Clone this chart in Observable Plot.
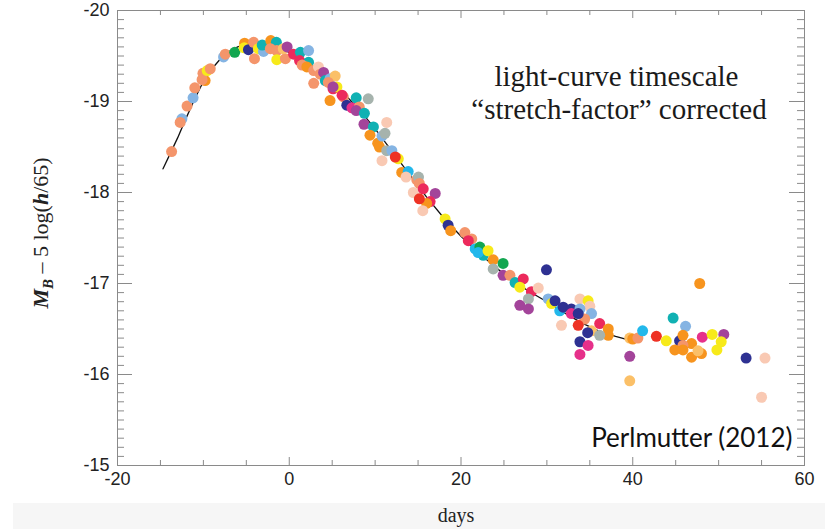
<!DOCTYPE html>
<html>
<head>
<meta charset="utf-8">
<script src="https://cdn.jsdelivr.net/npm/d3@7"></script>
<script src="https://cdn.jsdelivr.net/npm/@observablehq/plot@0.6"></script>
<style>
  html, body { margin: 0; padding: 0; background: #fff; }
  #wrap { position: relative; width: 825px; height: 529px; overflow: hidden; }
  #band { position: absolute; left: 13px; top: 503px; width: 812px; height: 26px; background: #f6f6f6; }
  #days { position: absolute; left: 456px; top: 503px; transform: translateX(-50%);
          font-family: "Liberation Serif", "Times New Roman", serif; font-size: 20px; line-height: 24px; color: #222; }
</style>
</head>
<body>
<div id="wrap">
  <div id="chart"></div>
  <div id="band"></div>
  <div id="days">days</div>
</div>
<script>
// ---- data ----
const days = [
  -13.7,-12.5,-12.7,-11.9,-11.2,-11.0,-9.8,-10.15,-10.05,-9.55,-9.2,-7.65,-7.45,-6.35,-5.2,-5.25,-4.75,-4.15,-4.05,-3.6,
  -3.0,-3.15,-2.15,-1.5,-2.2,-1.45,-1.45,-0.45,-0.7,-0.25,0.5,1.3,1.2,2.25,2.25,1.5,2.05,2.85,3.4,2.85,
  3.6,4.0,4.2,4.75,5.35,4.55,4.75,5.1,5.55,5.1,6.3,6.15,6.7,7.3,7.8,8.15,7.8,8.75,9.2,8.7,
  9.8,9.4,10.3,10.5,10.8,11.15,11.35,11.35,10.8,11.95,12.7,12.35,13.1,13.85,13.6,14.85,15.05,15.15,14.45,15.6,
  17.0,16.4,16.0,15.15,15.55,18.15,18.5,18.8,20.45,21.25,20.85,21.65,22.2,22.6,22.0,23.15,23.75,24.9,23.75,24.9,
  25.7,26.3,27.25,26.85,28.2,29.0,27.85,26.85,27.85,29.95,30.15,30.55,30.95,31.5,31.9,32.85,32.85,33.85,34.8,35.0,
  33.85,35.2,34.4,33.65,31.7,33.65,36.15,35.2,34.75,37.15,37.15,36.15,33.85,34.8,33.85,39.65,40.0,40.6,41.15,39.65,
  39.65,47.8,44.7,46.15,42.75,43.9,45.45,45.85,46.85,45.85,44.9,45.85,46.85,48.0,47.6,48.1,49.25,50.6,50.3,49.8,
  53.2,55.4,55.0
];
const mag = [
  -18.45,-18.81,-18.77,-18.95,-19.04,-19.15,-19.23,-19.24,-19.31,-19.34,-19.36,-19.49,-19.52,-19.54,-19.64,-19.59,-19.57,-19.65,-19.47,-19.58,
  -19.55,-19.62,-19.67,-19.65,-19.58,-19.56,-19.46,-19.47,-19.58,-19.60,-19.52,-19.54,-19.45,-19.56,-19.43,-19.40,-19.38,-19.34,-19.38,-19.20,
  -19.30,-19.32,-19.23,-19.25,-19.28,-19.21,-19.01,-19.14,-19.16,-19.16,-19.05,-19.07,-18.96,-18.93,-19.04,-18.94,-18.90,-18.87,-19.03,-18.75,
  -18.72,-18.63,-18.54,-18.50,-18.62,-18.65,-18.77,-18.46,-18.35,-18.46,-18.37,-18.39,-18.22,-18.23,-18.17,-18.14,-18.17,-18.10,-18.00,-18.04,
  -17.99,-17.90,-17.88,-17.93,-17.80,-17.71,-17.64,-17.58,-17.56,-17.49,-17.47,-17.38,-17.40,-17.31,-17.34,-17.36,-17.26,-17.22,-17.16,-17.09,
  -17.09,-17.01,-17.05,-16.96,-16.91,-16.95,-16.83,-16.76,-16.72,-17.15,-16.83,-16.78,-16.81,-16.70,-16.74,-16.72,-16.67,-16.83,-16.81,-16.75,
  -16.72,-16.67,-16.61,-16.67,-16.54,-16.54,-16.56,-16.48,-16.46,-16.50,-16.43,-16.43,-16.36,-16.32,-16.22,-16.40,-16.39,-16.40,-16.48,-16.20,
  -15.93,-17.00,-16.62,-16.53,-16.42,-16.37,-16.37,-16.43,-16.34,-16.32,-16.27,-16.27,-16.19,-16.23,-16.26,-16.41,-16.44,-16.44,-16.36,-16.27,
  -16.18,-16.18,-15.75
];
const sn = [
  "S","LB","S","S","LB","S","O","S","S","Y","S","LB","S","G","O","Y","N","S","S","Y",
  "LB","T","O","T","S","S","Y","S","LO","P","C","T","C","LB","T","S","O","S","PP","S",
  "S","P","T","LB","LO","S","O","C","Y","P","S","C","N","HP","T","S","P","T","GR","P",
  "T","O","O","O","LB","GR","PP","GR","PP","LB","Y","R","O","CY","PP","S","GR","S","PP","C",
  "P","C","O","R","PP","Y","N","O","S","S","C","CY","G","T","CY","Y","O","G","GR","P",
  "S","T","C","Y","C","PP","GR","P","P","N","LB","Y","N","CY","N","N","HP","PP","Y","PP",
  "LB","LB","S","N","PP","R","C","LO","N","O","O","GR","N","HP","HP","LO","O","S","CY","P",
  "LO","O","T","LB","R","Y","N","O","O","S","O","O","O","O","LO","HP","Y","P","Y","Y",
  "N","PP","PP"
];
const snKeys   = ["S","LB","G","O","N","Y","T","C","P","LO","PP","GR","CY","HP","R"];
const snColors = ["#f4956b","#85b4e3","#12a650","#f7941e","#2e3192","#f7ea1a","#10b1b3","#ec2a5c","#a3449a","#fbc068","#f9c9b3","#a6b3ad","#22b8eb","#e6308a","#ee3224"];

const curveDays = [-14.7,-14,-13,-12,-11,-10,-9,-8,-7,-6,-5,-4,-3,-2,-1,0,1,2,4,6,8,10,12,14,16,18,20,22,24,26,28,30,32,34,36,38,39.5];
const curveMag  = [-18.26,-18.40,-18.60,-18.82,-19.03,-19.22,-19.36,-19.47,-19.55,-19.60,-19.63,-19.64,-19.63,-19.61,-19.58,-19.54,-19.49,-19.43,-19.30,-19.12,-18.93,-18.70,-18.45,-18.20,-17.95,-17.72,-17.52,-17.34,-17.18,-17.03,-16.91,-16.80,-16.68,-16.57,-16.48,-16.42,-16.38];

const xMajor = [-20, 0, 20, 40, 60];
const yMajor = [-20, -19, -18, -17, -16, -15];
const noteText = ["light-curve timescale", "\u201cstretch-factor\u201d corrected"];
const noteDay  = [38.1, 38.4];
const noteMag  = [-19.27, -18.905];
const credit = "Perlmutter (2012)";

// ---- build ----
const points = days.map((d, i) => ({day: d, mag: mag[i], sn: sn[i]}));
const curve = curveDays.map((d, i) => ({day: d, mag: curveMag[i]}));
const notes = noteText.map((t, i) => ({t, day: noteDay[i], mag: noteMag[i]}));

const W = 825, H = 503, mT = 10, mB = 38, mL = 117, mR = 21;
const plotH = H - mT - mB, plotW = W - mL - mR;
const xMinor = d3.range(-20, 61, 5).filter(v => !xMajor.includes(v));
const yMinor = d3.range(-200, -149, 1).map(v => v / 10).filter(v => !yMajor.includes(v));
const tickColor = "#8a8a8a";
const sans = "'Liberation Sans', Arial, Helvetica, sans-serif";

const svg = Plot.plot({
  width: W, height: H,
  marginTop: mT, marginBottom: mB, marginLeft: mL, marginRight: mR,
  style: {fontFamily: sans, background: "transparent", overflow: "visible"},
  x: {domain: [-20, 60], axis: null},
  y: {domain: [-20, -15], reverse: true, axis: null},
  color: {type: "ordinal", domain: snKeys, range: snColors},
  marks: [
    Plot.frame({stroke: tickColor}),
    Plot.tickX(xMinor, {x: d => d, stroke: tickColor, insetTop: plotH - 5}),
    Plot.tickX(xMinor, {x: d => d, stroke: tickColor, insetBottom: plotH - 5}),
    Plot.tickX(xMajor, {x: d => d, stroke: tickColor, insetTop: plotH - 8}),
    Plot.tickX(xMajor, {x: d => d, stroke: tickColor, insetBottom: plotH - 8}),
    Plot.tickY(yMinor, {y: d => d, stroke: tickColor, insetRight: plotW - 7}),
    Plot.tickY(yMinor, {y: d => d, stroke: tickColor, insetLeft: plotW - 7}),
    Plot.tickY(yMajor, {y: d => d, stroke: tickColor, insetRight: plotW - 15}),
    Plot.tickY(yMajor, {y: d => d, stroke: tickColor, insetLeft: plotW - 15}),
    Plot.axisX({ticks: xMajor, tickSize: 0, tickPadding: 7, fontSize: 18, fontFamily: sans, label: null, tickFormat: d => String(d), fill: "#222"}),
    Plot.axisY({ticks: yMajor, tickSize: 0, tickPadding: 8, fontSize: 18, fontFamily: sans, label: null, tickFormat: d => String(d), fill: "#222"}),
    Plot.line(curve, {x: "day", y: "mag", stroke: "#111", strokeWidth: 1.3}),
    Plot.dot(points, {x: "day", y: "mag", fill: "sn", r: 5.5, stroke: "none"}),
    Plot.text(notes, {x: "day", y: "mag", text: "t", fontSize: 29, fontFamily: "'Liberation Serif', 'Times New Roman', serif", fill: "#1a1a1a"}),
    Plot.text([credit], {x: () => 58.6, y: () => -15.3, text: d => d, textAnchor: "end", fontSize: 26, fontFamily: "Lato, 'Open Sans', sans-serif", fill: "#111"})
  ]
});

// rotated y-axis label with mixed styles
const lbl = d3.select(svg).append("text")
  .attr("transform", "translate(48,233) rotate(-90)")
  .attr("text-anchor", "middle")
  .attr("font-family", "'Liberation Serif', 'Times New Roman', serif")
  .attr("font-size", 22)
  .attr("fill", "#222");
lbl.append("tspan").attr("font-weight", "bold").attr("font-style", "italic").text("M");
lbl.append("tspan").attr("font-weight", "bold").attr("font-style", "italic").attr("font-size", 15).attr("dy", 5).text("B");
lbl.append("tspan").attr("dy", -5).text(" \u2013 5 log(");
lbl.append("tspan").attr("font-weight", "bold").attr("font-style", "italic").text("h");
lbl.append("tspan").text("/65)");

document.getElementById("chart").appendChild(svg);
</script>
</body>
</html>
